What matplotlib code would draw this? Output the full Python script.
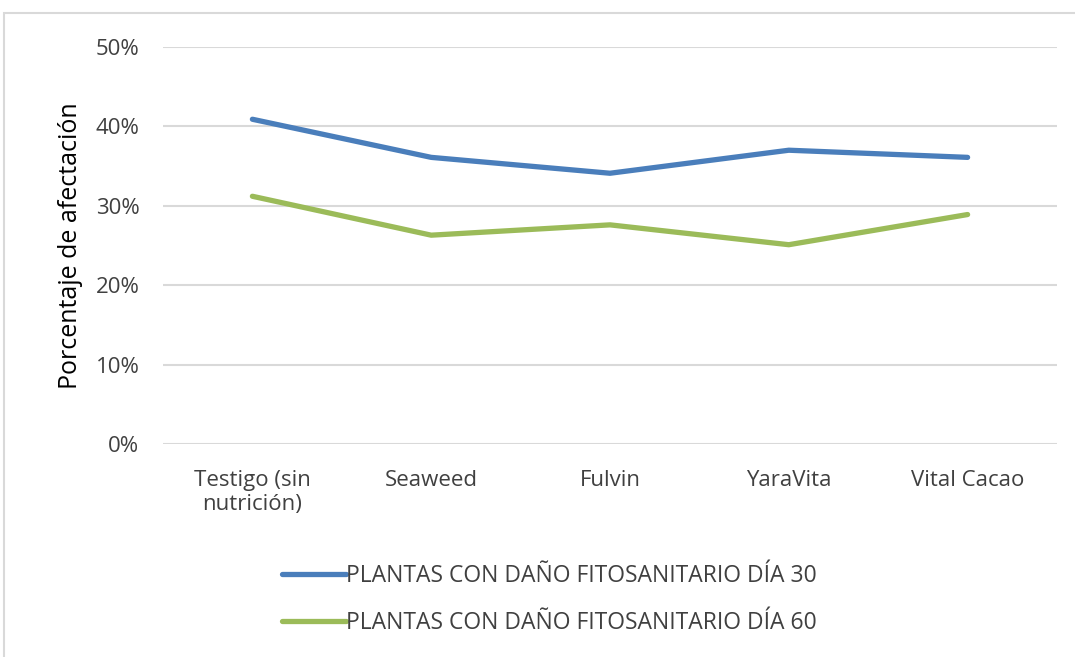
import matplotlib.pyplot as plt
from matplotlib.patches import Rectangle

# Datos
tratamientos = ['Testigo (sin\nnutrición)', 'Seaweed', 'Fulvin', 'YaraVita', 'Vital Cacao']
dia_30 = [0.409, 0.361, 0.341, 0.370, 0.361]
dia_60 = [0.312, 0.263, 0.276, 0.251, 0.289]
etiquetas = ['PLANTAS CON DAÑO FITOSANITARIO DÍA 30',
             'PLANTAS CON DAÑO FITOSANITARIO DÍA 60']

plt.rcParams['font.family'] = ['Open Sans', 'DejaVu Sans']

fig = plt.figure(figsize=(10.75, 6.57), dpi=100)
fig.patches.append(Rectangle((4/1075, -0.1), 1.2, 1 - 13/657 + 0.1, transform=fig.transFigure,
                             fill=False, edgecolor='#D9D9D9', linewidth=1.5))

ax = fig.add_axes([163/1075, 1 - 444/657, (1057 - 163)/1075, (444 - 47)/657])
x = range(len(tratamientos))
ax.plot(x, dia_30, color='#4A7EBB', linewidth=3.8, label=etiquetas[0], solid_capstyle='round')
ax.plot(x, dia_60, color='#9BBB59', linewidth=3.8, label=etiquetas[1], solid_capstyle='round')

ax.set_xlim(-0.5, 4.5)
ax.set_ylim(0, 0.5)
ax.set_yticks([0, 0.1, 0.2, 0.3, 0.4, 0.5])
ax.set_yticklabels(['0%', '10%', '20%', '30%', '40%', '50%'])
ax.set_xticks(list(x))
ax.set_xticklabels(tratamientos, linespacing=1.15)
ax.tick_params(length=0, labelsize=16, colors='#404040', pad=19)
ax.tick_params(axis='y', pad=17)
ax.grid(axis='y', color='#D9D9D9', linewidth=1.5)
ax.set_axisbelow(True)
for s in ax.spines.values():
    s.set_visible(False)
ax.set_ylabel('Porcentaje de afectación', fontsize=18, color='black', labelpad=9)

fig.legend(loc='center', bbox_to_anchor=(0.511, 0.087), ncol=1, frameon=False,
           fontsize=16.5, handlelength=2.8, handletextpad=0.0, labelspacing=1.0,
           labelcolor='#404040')

fig.savefig('out.png', dpi=100)
